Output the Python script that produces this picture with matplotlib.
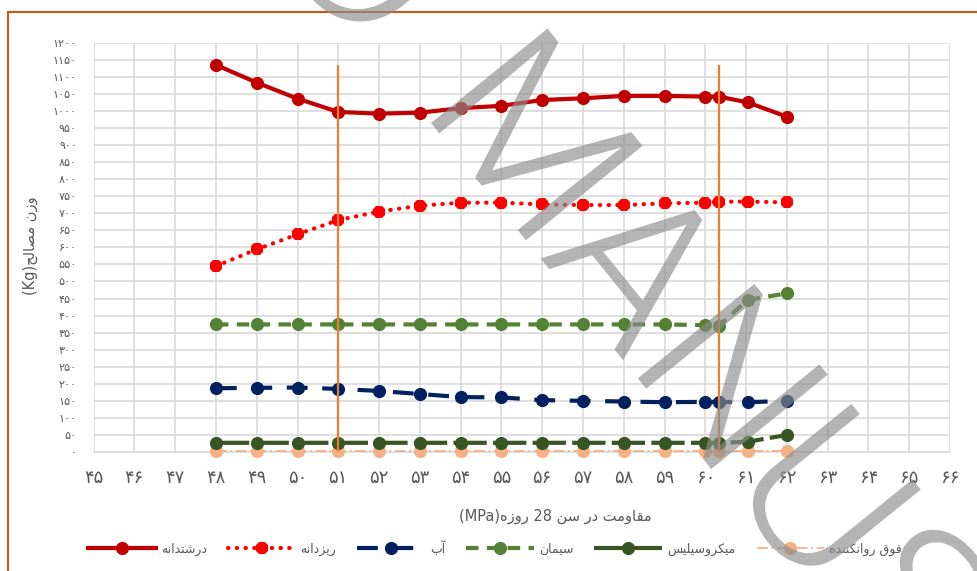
import matplotlib
matplotlib.use("Agg")
import matplotlib.pyplot as plt
import matplotlib.transforms as mtransforms
from matplotlib.patches import Rectangle, PathPatch
from matplotlib.textpath import TextPath
from matplotlib import font_manager

# ---------------- data ----------------
strength = [48, 49, 50, 51, 52, 53, 54, 55, 56, 57, 58, 59, 60, 60.33, 61.04, 62]
coarse = [1135, 1083, 1036, 997, 992, 995, 1008, 1015, 1032, 1037, 1044, 1044, 1042, 1042, 1025, 983]
fine = [545, 594, 638, 680, 705, 722, 731, 731, 726, 724, 724, 729, 731, 734, 734, 732]
water = [187, 188, 189, 185, 179, 170, 161, 160, 152, 150, 148, 146, 147, 147, 146, 150]
cement = [374, 374, 374, 374, 374, 374, 374, 374, 374, 374, 374, 374, 372, 370, 446, 465]
micro = [27, 27, 27, 27, 27, 27, 27, 27, 27, 27, 27, 27, 27, 27, 30, 50]
superp = [2, 2, 2, 2, 2, 2, 2, 2, 2, 2, 2, 2, 2, 2, 2, 2]
vline_x = [51, 60.33]
vline_top = 1132
x_ticks = list(range(45, 67))
y_ticks = list(range(0, 1201, 50))

names = ["درشتدانه", "ریزدانه", "آب", "سیمان", "میکروسیلیس", "فوق روانکننده"]
xlabel_fa = "مقاومت در سن 28 روزه"
xlabel_unit = "(MPa)"
ylabel_fa = "وزن مصالح"
ylabel_unit = "(Kg)"

# ---------------- minimal Persian shaping ----------------
FORMS = {
    '\u0627': ('\uFE8D', '\uFE8E', None, None),
    '\u0622': ('\uFE81', '\uFE82', None, None),
    '\u0628': ('\uFE8F', '\uFE90', '\uFE91', '\uFE92'),
    '\u062A': ('\uFE95', '\uFE96', '\uFE97', '\uFE98'),
    '\u062D': ('\uFEA1', '\uFEA2', '\uFEA3', '\uFEA4'),
    '\u062F': ('\uFEA9', '\uFEAA', None, None),
    '\u0631': ('\uFEAD', '\uFEAE', None, None),
    '\u0632': ('\uFEAF', '\uFEB0', None, None),
    '\u0633': ('\uFEB1', '\uFEB2', '\uFEB3', '\uFEB4'),
    '\u0634': ('\uFEB5', '\uFEB6', '\uFEB7', '\uFEB8'),
    '\u0635': ('\uFEB9', '\uFEBA', '\uFEBB', '\uFEBC'),
    '\u0641': ('\uFED1', '\uFED2', '\uFED3', '\uFED4'),
    '\u0642': ('\uFED5', '\uFED6', '\uFED7', '\uFED8'),
    '\u0644': ('\uFEDD', '\uFEDE', '\uFEDF', '\uFEE0'),
    '\u0645': ('\uFEE1', '\uFEE2', '\uFEE3', '\uFEE4'),
    '\u0646': ('\uFEE5', '\uFEE6', '\uFEE7', '\uFEE8'),
    '\u0647': ('\uFEE9', '\uFEEA', '\uFEEB', '\uFEEC'),
    '\u0648': ('\uFEED', '\uFEEE', None, None),
    '\u06A9': ('\uFB8E', '\uFB8F', '\uFB90', '\uFB91'),
    '\u06CC': ('\uFBFC', '\uFBFD', '\uFBFE', '\uFBFF'),
}


def shape_word(w):
    out = []
    for i, c in enumerate(w):
        if c not in FORMS:
            out.append(c)
            continue
        prev_j = i > 0 and w[i - 1] in FORMS and FORMS[w[i - 1]][2] is not None
        next_j = i < len(w) - 1 and w[i + 1] in FORMS and FORMS[c][2] is not None
        f = FORMS[c]
        if prev_j and next_j:
            out.append(f[3])
        elif prev_j:
            out.append(f[1])
        elif next_j:
            out.append(f[2])
        else:
            out.append(f[0])
    return "".join(out)


def fa(text):
    words = text.split(" ")
    vis = []
    for w in words:
        if any(ch in FORMS for ch in w):
            vis.append(shape_word(w)[::-1])
        else:
            vis.append(w)
    return " ".join(vis[::-1])


def fa_num(n):
    return str(n).translate(str.maketrans("0123456789", "۰۱۲۳۴۵۶۷۸۹"))


# ---------------- figure ----------------
W, H = 978, 571
fig = plt.figure(figsize=(W / 100, H / 100), dpi=100)
fig.patch.set_facecolor("white")
FONT = ["DejaVu Sans"]
TXT = "#595959"

ax = fig.add_axes([93.6 / W, 1 - 452 / H, (950 - 93.6) / W, (452 - 42.7) / H])
ax.set_xlim(45, 66)
ax.set_ylim(0, 1200)
ax.set_xticks(x_ticks)
ax.set_yticks(y_ticks)
ax.set_xticklabels([fa_num(v) for v in x_ticks], fontsize=13, color=TXT, family=FONT)
ax.set_yticklabels([fa_num(v) for v in y_ticks], fontsize=8, color=TXT, family=FONT)
ax.tick_params(axis="both", length=0)
ax.tick_params(axis="x", pad=12)
ax.tick_params(axis="y", pad=12)
ax.grid(True, color="#D9D9D9", linewidth=1.2)
ax.set_axisbelow(True)
for s in ["top", "right", "left"]:
    ax.spines[s].set_visible(False)
ax.spines["bottom"].set_color("#D9D9D9")
ax.spines["bottom"].set_linewidth(1.2)

ms = 9.5
l1, = ax.plot(strength, coarse, color="#C00000", lw=3, marker="o", ms=ms, zorder=5)
l2, = ax.plot(strength, fine, color="#FF0000", lw=3, linestyle=(0, (0.1, 2.0)),
              dash_capstyle="round", marker="8", ms=ms, zorder=5)
l3, = ax.plot(strength, water, color="#002060", lw=3, linestyle=(0, (5, 3.5)),
              marker="o", ms=ms, zorder=5)
l4, = ax.plot(strength, cement, color="#548235", lw=3, linestyle=(0, (3, 2)),
              marker="o", ms=ms, zorder=5)
l5, = ax.plot(strength, micro, color="#375623", lw=3, linestyle=(0, (8, 1.5)),
              marker="o", ms=ms, zorder=5)
l6, = ax.plot(strength, superp, color="#F4B183", lw=1.3, linestyle=(0, (6, 2, 1, 2)),
              marker="o", ms=ms, zorder=4, clip_on=False)
for l in (l1, l2, l3, l4, l5, l6):
    l.set_markeredgewidth(0)

for vx in vline_x:
    ax.plot([vx, vx], [0, vline_top], color="#ED7D31", lw=1.6, zorder=6)

fig.text(555 / W, 1 - 516 / H, xlabel_unit + fa(xlabel_fa), ha="center", va="center",
         fontsize=10.5, color=TXT, family=FONT)
fig.text(30 / W, 1 - 246 / H, ylabel_unit + fa(ylabel_fa), ha="center", va="center",
         rotation=90, fontsize=10.5, color=TXT, family=FONT)

leg = fig.legend([l1, l2, l3, l4, l5, l6], [fa(n) for n in names], ncol=6,
                 loc="center", bbox_to_anchor=(495 / W, 1 - 548 / H), frameon=False,
                 prop={"family": FONT, "size": 9}, handlelength=5.4, handletextpad=0.4,
                 columnspacing=1.7, labelcolor=TXT)

# chart border
fig.patches.append(Rectangle((8 / W, -0.1), 1.2, 1 - 12 / H + 0.1, transform=fig.transFigure,
                             fill=False, edgecolor="#C55A11", linewidth=1.5, zorder=0))

# ---------------- watermark ----------------
def pick_watermark_font():
    order = ["Roboto", "Open Sans", "Noto Sans", "Lato", "Inter"]
    best = None
    for f in font_manager.fontManager.ttflist:
        w = f.weight
        if isinstance(w, str):
            w = {"light": 300, "extra light": 200, "ultralight": 200}.get(w.lower(), 400)
        if f.name in order and f.style == "normal" and w == 300:
            rank = order.index(f.name)
            if best is None or rank < best[0]:
                best = (rank, f.fname)
    if best is not None:
        return font_manager.FontProperties(fname=best[1])
    try:
        p = font_manager.findfont(font_manager.FontProperties(family="Liberation Sans"),
                                  fallback_to_default=False)
        return font_manager.FontProperties(fname=p)
    except Exception:
        return font_manager.FontProperties(family="DejaVu Sans")


wm_fp = pick_watermark_font()
cap100 = TextPath((0, 0), "M", size=100, prop=wm_fp).get_extents().height
wm_size = 150.0 / cap100 * 100
ROT = -51


def watermark(text, align, stretch=1.0):
    tp = TextPath((0, 0), text, size=wm_size, prop=wm_fp)
    ext = tp.get_extents()
    dx = -ext.x0 if align == "left" else -ext.x1
    tr = mtransforms.Affine2D().translate(dx, 0).scale(stretch, 1.0).rotate_deg(ROT)
    return tr.transform_path(tp)


def add_wm(path, tx, ty):
    p = mtransforms.Affine2D().translate(tx, ty).transform_path(path)
    fig.add_artist(PathPatch(p, facecolor="#8C8C8C", edgecolor="none", alpha=0.65,
                             transform=mtransforms.IdentityTransform(), zorder=10))


# MANUSCRIPT: bottom-left of the M at about (431, 123) px from the top-left
p_main = watermark("MANUSCRIPT", "left", stretch=1.045)
add_wm(p_main, 431, H - 123)
# ACCEPTED: lowest point of its last letter at about (380, 24)
p_acc = watermark("ACCEPTED", "right", stretch=1.045)
verts = p_acc.vertices
i_low = verts[:, 1].argmin()
add_wm(p_acc, 380 - verts[i_low, 0], (H - 24) - verts[i_low, 1])

fig.savefig("out.png", dpi=100, facecolor="white")
